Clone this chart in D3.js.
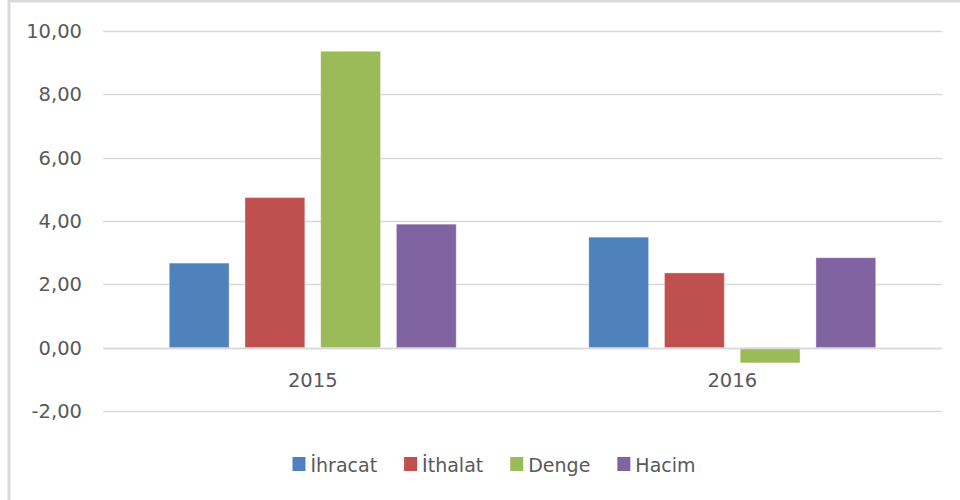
<!DOCTYPE html>
<html>
<head>
<meta charset="utf-8">
<script src="https://cdn.jsdelivr.net/npm/d3@7"></script>
<style>
  body { margin: 0; background: #fff; }
  svg { display: block; }
  text { font-family: "DejaVu Sans", Verdana, sans-serif; fill: #595959; }
</style>
</head>
<body>
<svg id="chart" width="960" height="500"></svg>
<script>
// ---- data ----
const categories = ["2015", "2016"];
const seriesNames = ["İhracat", "İthalat", "Denge", "Hacim"];
const seriesColors = ["#4f81bd", "#c0504d", "#9bbb59", "#8064a2"];
const ihracat = [2.67, 3.49];
const ithalat = [4.74, 2.36];
const denge   = [9.36, -0.48];
const hacim   = [3.90, 2.84];
const yTicks = [-2, 0, 2, 4, 6, 8, 10];
const yTickLabels = ["-2,00", "0,00", "2,00", "4,00", "6,00", "8,00", "10,00"];

const seriesValues = [ihracat, ithalat, denge, hacim];

// ---- layout ----
const svg = d3.select("#chart");
const plot = { left: 103, right: 942, top: 31, bottom: 411 };

// chart border
svg.append("rect")
  .attr("x", 9).attr("y", 1)
  .attr("width", 960).attr("height", 510)
  .attr("fill", "none").attr("stroke", "#d9d9d9").attr("stroke-width", 3);

const y = d3.scaleLinear().domain([-2, 10]).range([plot.bottom, plot.top]);
const x0 = d3.scaleBand().domain(categories).range([plot.left, plot.right])
  .paddingInner(0.316).paddingOuter(0.158);
const x1 = d3.scaleBand().domain(seriesNames).range([0, x0.bandwidth()])
  .paddingInner(0.21).paddingOuter(0);

// gridlines
svg.append("g").selectAll("line").data(yTicks).join("line")
  .attr("x1", plot.left).attr("x2", plot.right)
  .attr("y1", d => Math.round(y(d)) + 0.5).attr("y2", d => Math.round(y(d)) + 0.5)
  .attr("stroke", "#d9d9d9").attr("stroke-width", 1.5);

// y labels
svg.append("g").selectAll("text").data(yTicks).join("text")
  .attr("x", 82).attr("y", d => y(d))
  .attr("dy", "0.36em")
  .attr("text-anchor", "end")
  .attr("font-size", 19.5)
  .text((d, i) => yTickLabels[i]);

// bars
const groups = svg.append("g").selectAll("g").data(categories).join("g")
  .attr("transform", c => `translate(${x0(c)},0)`);
groups.selectAll("rect")
  .data((c, ci) => seriesNames.map((s, si) => ({ s, si, v: seriesValues[si][ci] })))
  .join("rect")
  .attr("x", d => x1(d.s))
  .attr("width", x1.bandwidth())
  .attr("y", d => y(Math.max(0, d.v)))
  .attr("height", d => Math.abs(y(d.v) - y(0)))
  .attr("fill", d => seriesColors[d.si])
  .attr("stroke", "#ffffff").attr("stroke-opacity", 0.35).attr("stroke-width", 1);

// zero line on top
svg.append("line")
  .attr("x1", plot.left).attr("x2", plot.right)
  .attr("y1", Math.round(y(0)) + 0.5).attr("y2", Math.round(y(0)) + 0.5)
  .attr("stroke", "#d9d9d9").attr("stroke-width", 1.5);

// category labels
svg.append("g").selectAll("text").data(categories).join("text")
  .attr("x", c => x0(c) + x0.bandwidth() / 2)
  .attr("y", 387)
  .attr("text-anchor", "middle")
  .attr("font-size", 19.5)
  .text(c => c);

// legend
const legend = svg.append("g");
const items = legend.selectAll("g").data(seriesNames).join("g");
items.append("rect")
  .attr("width", 13).attr("height", 14)
  .attr("y", 457)
  .attr("fill", (d, i) => seriesColors[i]);
items.append("text")
  .attr("x", 18).attr("y", 471.5)
  .attr("font-size", 19)
  .text(d => d);
let widths = [];
items.each(function () { widths.push(d3.select(this).select("text").node().getComputedTextLength()); });
const gap = 27;
let total = 0;
widths.forEach((w, i) => { total += 18 + w + (i < widths.length - 1 ? gap : 0); });
let cx = 494 - total / 2;
items.attr("transform", (d, i) => {
  const t = `translate(${cx},0)`;
  cx += 18 + widths[i] + gap;
  return t;
});
</script>
</body>
</html>
